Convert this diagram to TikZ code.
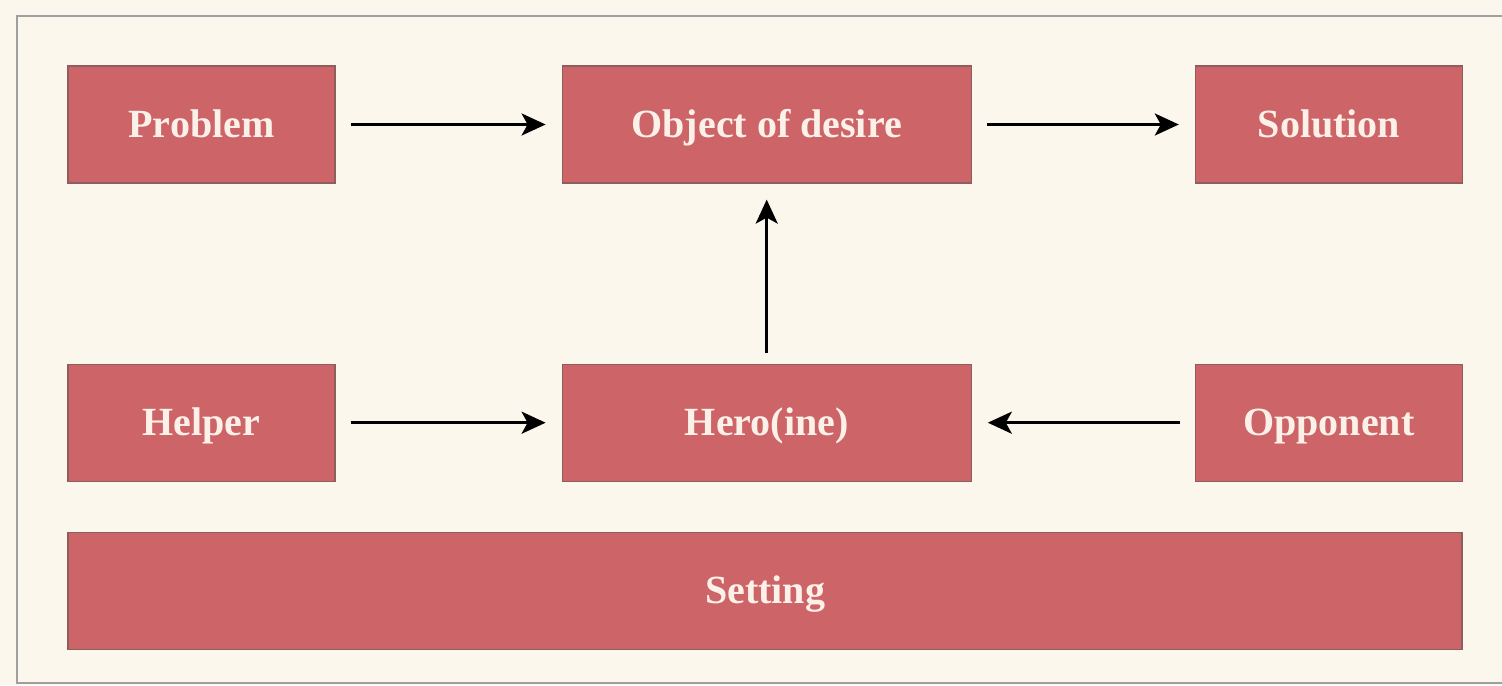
\documentclass[tikz,border=0pt]{standalone}
\usepackage{fontspec}
\setmainfont{Liberation Serif}
\usetikzlibrary{positioning, arrows.meta}
\definecolor{boxred}{HTML}{CD6468}
\definecolor{boxline}{HTML}{8E5E5E}
\definecolor{boxtext}{HTML}{FCF1E8}
\definecolor{paper}{HTML}{FBF7EC}
\tikzstyle{node} = [rectangle, minimum width=133.5pt, minimum height=58.5pt, inner sep=0pt, text height=17pt, text depth=4pt, text centered, draw=boxline, line width=0.6pt, fill=boxred, text=boxtext, font=\bfseries\fontsize{20}{24}\selectfont]
\tikzstyle{arrow} = [line width=1.5pt, -{Stealth[length=12pt,width=11pt,inset=3pt]}, shorten <=7.5pt, shorten >=8pt]

\begin{document}
\begin{tikzpicture}[node distance=113pt]
            \fill [paper] (0pt,0pt) rectangle (751pt,-342.5pt);
            \useasboundingbox (0pt,0pt) rectangle (751pt,-342.5pt);
            \draw [gray!75, line width=0.9pt] (751pt,-8pt) -- (8.5pt,-8pt) -- (8.5pt,-341.5pt) -- (751pt,-341.5pt);

            \node (prob)   [node] at (100.75pt,-62.25pt) {Problem};
            \node (desire) [node, minimum width=204.5pt, right=113pt of prob] {Object of desire};
            \node (sol)    [node, right=111.5pt of desire] {Solution};
            \node (help)   [node, below=90pt of prob] {Helper};
            \node (hero)   [node, minimum width=204.5pt, below=90pt of desire] {Hero(ine)};
            \node (opp)    [node, below=90pt of sol] {Opponent};
            \node (set)    [node, minimum width=697pt, below=25pt of help.south west, anchor=north west] {Setting};

            \draw [arrow] (prob)  -- (desire);
            \draw [arrow] (desire) -- (sol);
            \draw [arrow, shorten <=5.5pt] (hero) -- (desire);
            \draw [arrow] (help)  -- (hero);
            \draw [arrow] (opp)   -- (hero);
        \end{tikzpicture}
\end{document}
